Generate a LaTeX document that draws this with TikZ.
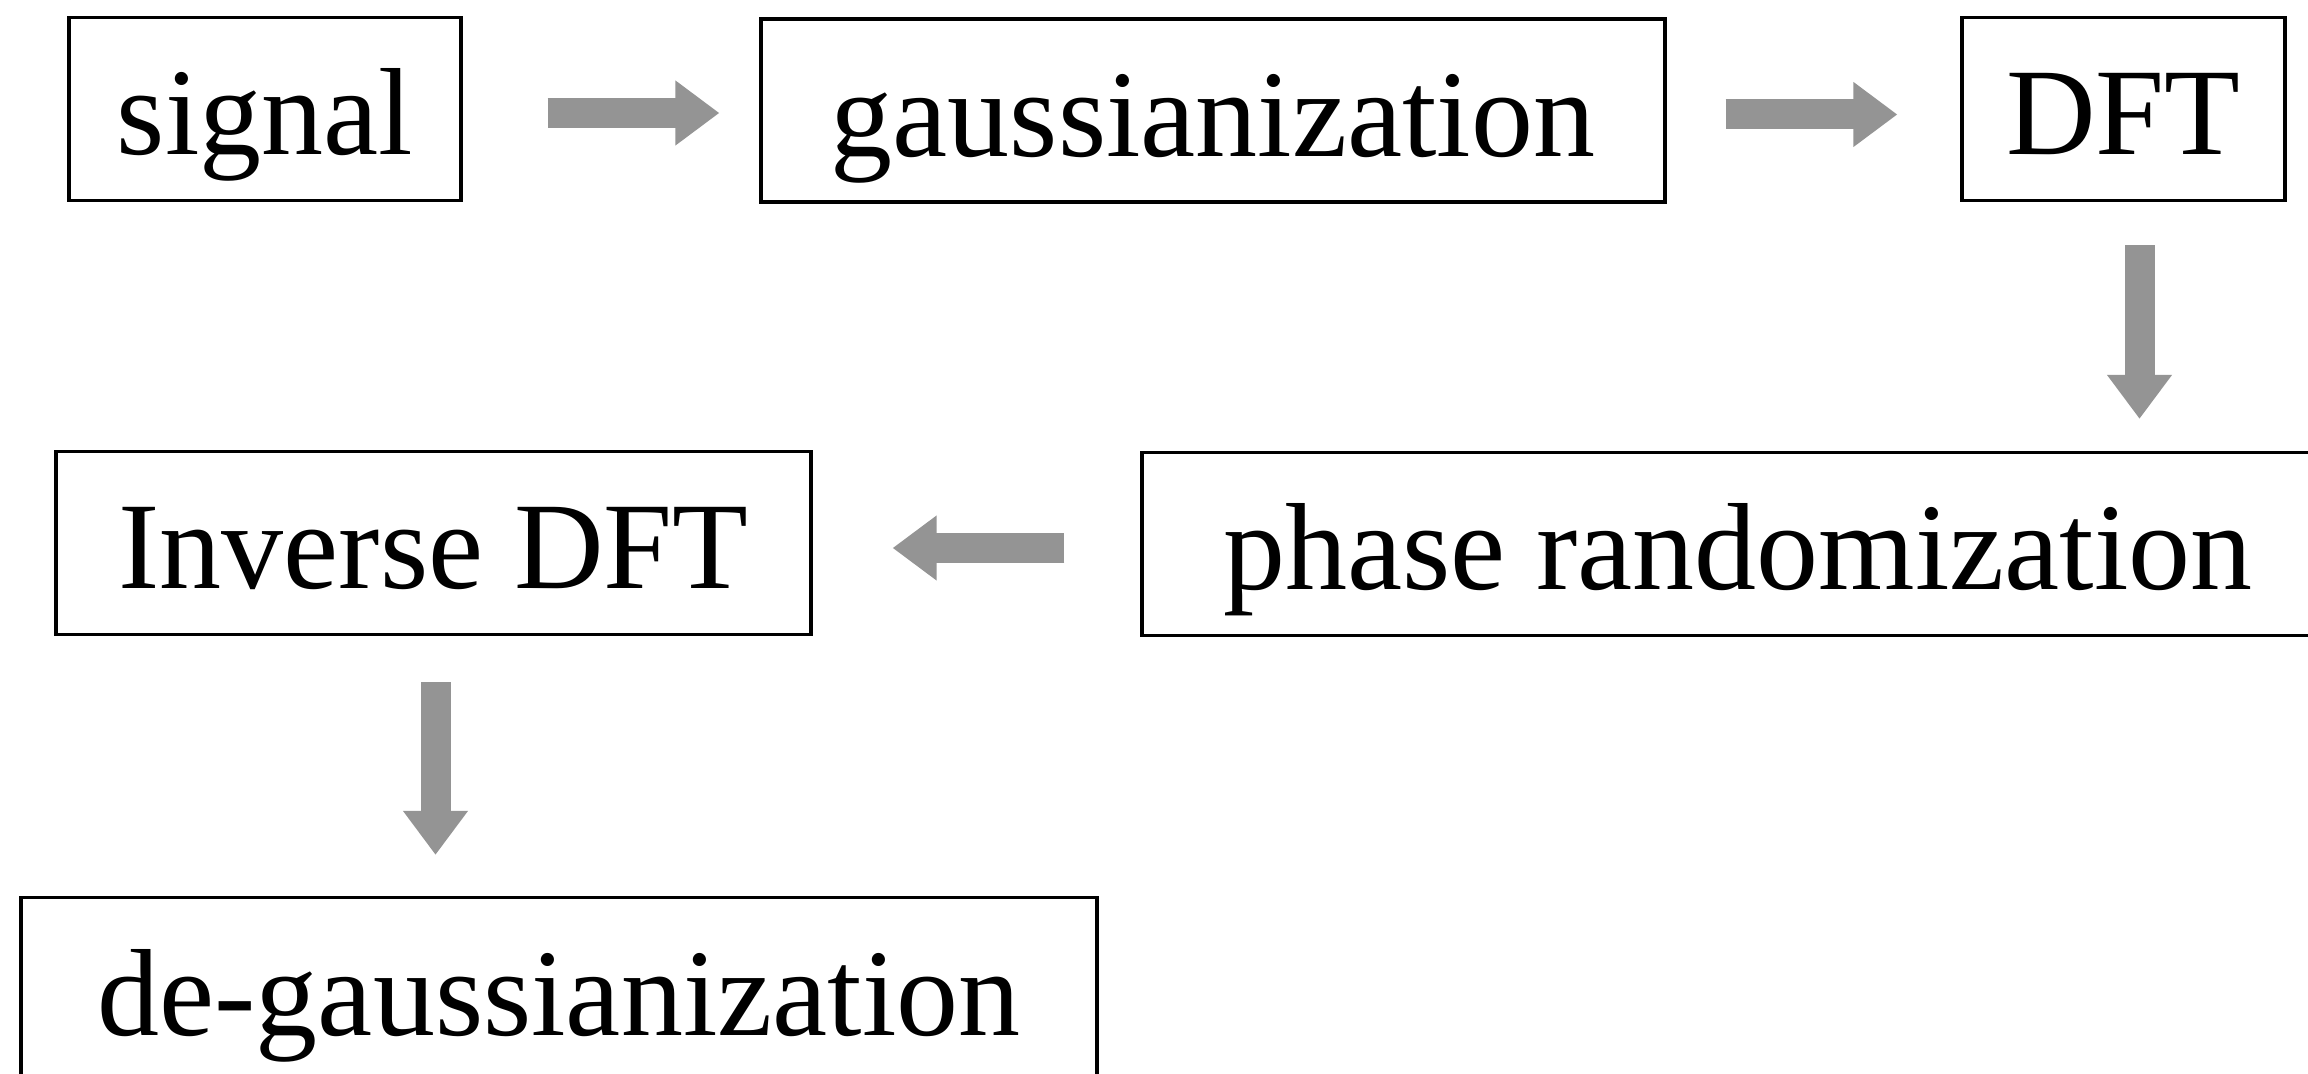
\documentclass[tikz,border=0pt]{standalone}
\usepackage{fontspec}
\setmainfont{Liberation Serif}
\usetikzlibrary{arrows.meta}
\definecolor{arrowgray}{HTML}{949494}
\begin{document}
\begin{tikzpicture}[x=0.5pt,y=-0.5pt,
  box/.style={draw, line width=1.6pt, inner sep=0pt, text height=61pt, text depth=15pt,
    font=\fontsize{62}{70}\selectfont, minimum height=91.5pt},
  blockarrow/.style={draw=arrowgray, line width=15pt,
    -{Triangle[length=22pt,width=31pt,fill=arrowgray]}}]
\useasboundingbox (0,0) rectangle (2308,1074);
\clip (0,0) rectangle (2308,1074);
\fill[white] (0,0) rectangle (2308,1074);
\node[box, minimum width=196pt] (signal) at (265,109) {signal};
\node[box, minimum width=452pt] (gauss) at (1213,110.5) {gaussianization};
\node[box, minimum width=161.5pt] (dft) at (2123.5,109) {DFT};
\node[box, minimum width=596pt] (phase) at (1738,544) {phase randomization};
\node[box, minimum width=377.5pt] (inv) at (433.5,543) {Inverse DFT};
\node[box, minimum width=538pt] (degauss) at (559,989) {de-gaussianization};
\draw[blockarrow, shorten <=42.5pt, shorten >=20pt] ([yshift=-2pt]signal.east) -- ([yshift=-2pt]signal.east -| gauss.west);
\draw[blockarrow, shorten <=29.5pt, shorten >=31.5pt] ([yshift=-2pt]gauss.east) -- ([yshift=-2pt]gauss.east -| dft.west);
\draw[blockarrow, shorten <=21.5pt, shorten >=16pt] ([xshift=8pt]dft.south) -- ([xshift=8pt]dft.south |- phase.north);
\draw[blockarrow, shorten <=38pt, shorten >=40pt] ([yshift=-2pt]phase.west) -- ([yshift=-2pt]phase.west -| inv.east);
\draw[blockarrow, shorten <=23pt, shorten >=20.5pt] ([xshift=1pt]inv.south) -- ([xshift=1pt]inv.south |- degauss.north);
\end{tikzpicture}
\end{document}
